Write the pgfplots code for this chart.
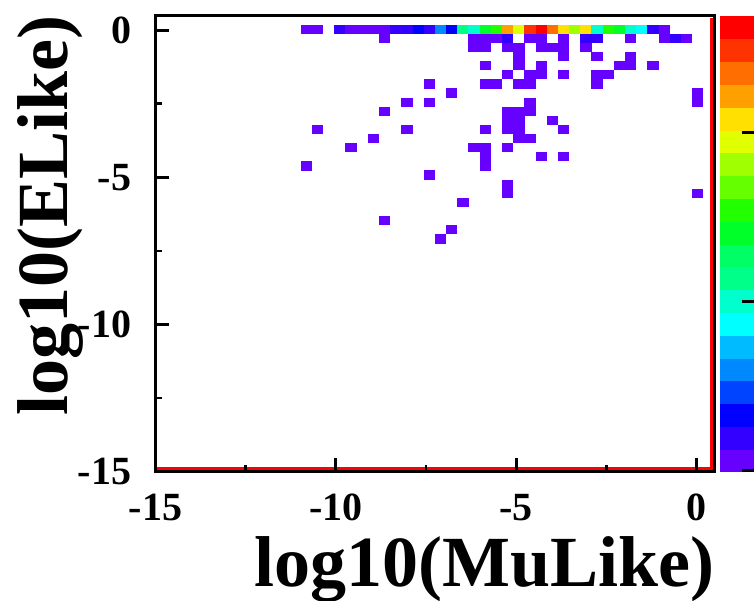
\documentclass[border=0pt]{standalone}
\usepackage{pgfplots}
\pgfplotsset{compat=1.18}
\usepackage{pgfplotstable}
\usepackage{fontspec}
\setmainfont{Liberation Serif}

\pgfdeclareplotmark{binrect}{%
  \pgfpathrectangle{\pgfpoint{-2.83pt}{-2.31pt}}{\pgfpoint{5.66pt}{4.62pt}}%
  \pgfusepathqfill}

% i = x bin, j = y bin (50 bins from -15 to 0.5), k = colour level (0..19)
\pgfplotstableread{
i j k
13 48 0
14 48 0
16 48 1
17 48 0
18 48 0
19 48 0
20 48 0
21 48 1
22 48 1
23 48 2
24 48 1
25 48 4
26 48 2
27 48 8
28 48 7
29 48 10
30 48 11
31 48 16
32 48 14
33 48 18
34 48 19
35 48 17
36 48 15
37 48 13
38 48 15
39 48 7
40 48 11
41 48 10
42 48 7
43 48 6
44 48 1
45 48 0
20 47 0
28 47 0
29 47 0
30 47 0
31 47 1
33 47 0
34 47 0
36 47 0
38 47 1
39 47 1
42 47 0
45 47 0
46 47 1
47 47 0
28 46 0
29 46 0
31 46 0
32 46 0
34 46 0
35 46 0
36 46 0
38 46 0
32 45 0
36 45 0
39 45 0
42 45 0
29 44 0
32 44 0
34 44 0
41 44 0
42 44 0
44 44 0
31 43 0
33 43 0
34 43 0
36 43 0
39 43 0
40 43 0
24 42 0
29 42 0
30 42 0
32 42 0
33 42 0
39 42 0
26 41 0
48 41 0
22 40 0
24 40 0
33 40 0
48 40 0
20 39 0
31 39 0
32 39 0
33 39 0
31 38 0
32 38 0
35 38 0
14 37 0
22 37 0
29 37 0
31 37 0
32 37 0
36 37 0
19 36 0
32 36 0
33 36 0
17 35 0
28 35 0
29 35 0
31 35 0
29 34 0
34 34 0
36 34 0
13 33 0
29 33 0
24 32 0
31 31 0
31 30 0
48 30 0
27 29 0
20 27 0
26 26 0
25 25 0
}\cells

\begin{document}
\begin{tikzpicture}
\useasboundingbox (-77.75pt,-64.65pt) rectangle (299.25pt,235.75pt);
\begin{axis}[
  name=ax, at={(0,0)}, anchor=south west,
  scale only axis, width=279.5pt, height=228pt,
  xmin=-15, xmax=0.5, ymin=-15, ymax=0.5,
  axis on top,
  axis line style={line width=1.35pt},
  every tick/.append style={black, line width=1.35pt},
  tick align=inside, tick pos=left,
  xtick={-15,-10,-5,0}, xticklabels={-15,-10,-5,0},
  ytick={-15,-10,-5,0}, yticklabels={-15,-10,-5,0},
  minor xtick={-12.5,-7.5,-2.5}, minor ytick={-12.5,-7.5,-2.5},
  major tick length=6.8pt, minor tick length=3.2pt,
  ticklabel style={font=\fontsize{20}{24}\selectfont\bfseries},
  xticklabel style={anchor=base, yshift=-24.5pt},
  yticklabel style={anchor=east, inner sep=0pt, xshift=-12pt},
  colormap={rootpal}{
    rgb255=(102,0,255) rgb255=(51,0,255) rgb255=(0,0,255) rgb255=(0,68,255)
    rgb255=(0,136,255) rgb255=(0,187,255) rgb255=(0,255,255) rgb255=(0,255,204)
    rgb255=(0,255,136) rgb255=(0,255,100) rgb255=(0,255,40) rgb255=(34,255,0)
    rgb255=(102,255,0) rgb255=(160,255,0) rgb255=(224,255,0) rgb255=(255,224,0)
    rgb255=(255,160,0) rgb255=(255,110,0) rgb255=(255,51,0) rgb255=(255,0,0)},
  colormap access=piecewise constant,
  point meta min=0, point meta max=20,
  colorbar right,
  colorbar style={
    at={(parent axis.north east)}, anchor=north west, xshift=-5.78pt,
    scale only axis, width=17pt, height=228pt,
    axis line style={draw=none},
    ytick=\empty, minor ytick={},
  },
]
\addplot[scatter, only marks, mark=binrect,
  scatter/use mapped color={draw=none, fill=mapped color},
  point meta=explicit]
  table[x expr={-15+0.31*(\thisrow{i}+0.5)},
        y expr={-15+0.31*(\thisrow{j}+0.5)},
        meta expr={\thisrow{k}+0.5}] {\cells};
\draw[red, line width=1.5pt]
  ([yshift=1.6pt]axis cs:-15,-15) -- ([xshift=-1.5pt,yshift=1.6pt]axis cs:0.5,-15)
  -- ([xshift=-1.5pt]axis cs:0.5,0.42);
\end{axis}
% colour-scale ticks (log scale: 1, 10, 100), labels lie beyond the picture's edge
\foreach \t in {0,84.5,168.9}
  \draw[black, line width=1.5pt] ([xshift=13.6pt, yshift=\t pt+0.4pt]ax.south east) -- ++(6.5pt,0);
\node[anchor=base east, inner sep=0pt, font=\fontsize{36}{40}\selectfont\bfseries]
  at ([yshift=-57.7pt]ax.south east) {log10(MuLike)};
\node[rotate=90, anchor=base east, inner sep=0pt, font=\fontsize{36}{40}\selectfont\bfseries]
  at ([xshift=-43.75pt]ax.north west) {log10(ELike)};
\end{tikzpicture}
\end{document}
